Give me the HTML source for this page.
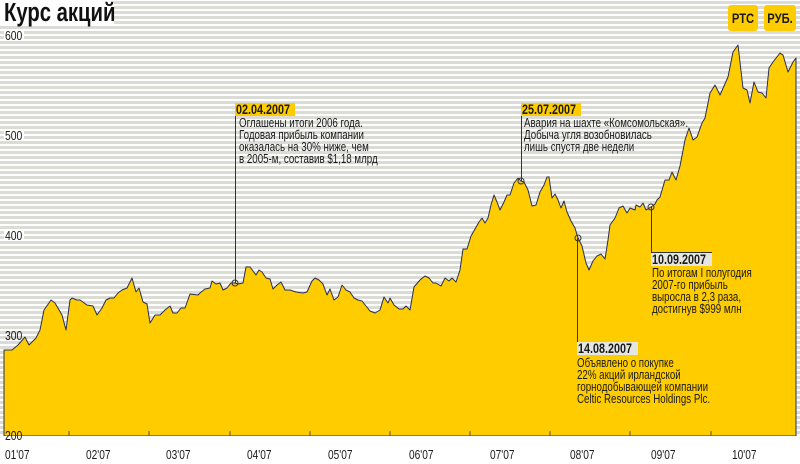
<!DOCTYPE html>
<html><head><meta charset="utf-8"><style>
html,body{margin:0;padding:0;background:#fff;}
svg{display:block;}
text{font-family:"Liberation Sans",sans-serif;fill:#1a1a1a;}
</style></head><body>
<svg width="800" height="464" viewBox="0 0 800 464" xmlns="http://www.w3.org/2000/svg">
<defs>
<pattern id="st" x="0" y="1" width="10" height="5" patternUnits="userSpaceOnUse">
<rect width="10" height="5" fill="#fff"/><rect y="0" width="10" height="3" fill="#dcdcd6"/>
</pattern>
</defs>
<rect x="0" y="0" width="800" height="440" fill="url(#st)"/>
<rect x="0" y="0" width="114" height="24" fill="#fff"/>
<path fill="#ffcc00" stroke="#2a2f50" stroke-width="1" stroke-linejoin="round" d="M4,436 L4,350 L12,350 L18,345 L25,337 L29,345 L36,338 L40,330 L44,310 L51,300 L55,303 L62,315 L66,330 L70,300 L72,298 L77,300 L80,300 L87,305 L93,306 L97,315 L102,308 L106,300 L110,298 L114,298 L118,293 L122,290 L127,288 L132,278 L136,292 L139,288 L143,302 L147,304 L150,323 L155,315 L160,315 L165,310 L170,306 L173,313 L177,313 L181,308 L185,308 L190,294 L198,295 L200,293 L205,289 L210,288 L212,281 L216,284 L220,283 L223,290 L227,288 L231,283 L235,283 L238,284 L243,283 L246,267 L250,267 L253,271 L256,275 L259,270 L262,272 L266,278 L270,279 L273,289 L277,285 L281,282 L285,290 L290,290 L296,292 L303,293 L307,292 L312,281 L315,278 L319,280 L323,284 L327,295 L330,289 L334,300 L338,297 L342,285 L346,290 L350,292 L354,298 L358,300 L362,301 L366,306 L370,311 L375,313 L380,310 L384,297 L388,303 L390,298 L394,305 L399,309 L403,309 L406,306 L410,310 L414,287 L420,280 L425,276 L429,278 L433,283 L436,283 L441,286 L445,278 L449,281 L452,278 L456,282 L460,270 L463,249 L467,249 L471,236 L475,229 L479,222 L482,218 L485,223 L488,218 L491,205 L494,195 L497,202 L500,210 L504,202 L507,195 L510,195 L514,183 L518,178 L521,181 L524,182 L528,190 L532,206 L536,205 L540,192 L544,185 L547,177 L549,177 L552,198 L555,194 L558,200 L561,208 L564,201 L567,212 L571,221 L575,228 L578,238 L582,246 L586,263 L589,270 L593,261 L597,256 L601,254 L605,259 L608,240 L610,225 L615,218 L619,208 L623,206 L627,213 L630,208 L635,210 L636,205 L640,207 L643,203 L646,210 L651,207 L655,204 L657,200 L660,197 L665,180 L669,180 L672,172 L676,180 L680,166 L685,140 L689,128 L693,140 L697,137 L702,123 L705,118 L710,93 L715,85 L720,95 L728,77 L733,52 L738,45 L743,88 L747,90 L750,103 L754,82 L758,92 L762,93 L766,98 L769,68 L773,62 L780,53 L783,55 L788,72 L793,62 L796,58 L796,436 Z"/>
<rect x="0" y="436" width="800" height="28" fill="#fff"/>
<g stroke="#555" stroke-width="1">
<line x1="69" y1="436" x2="69" y2="431"/><line x1="149" y1="436" x2="149" y2="431"/><line x1="230" y1="436" x2="230" y2="431"/><line x1="310" y1="436" x2="310" y2="431"/><line x1="390" y1="436" x2="390" y2="431"/><line x1="470" y1="436" x2="470" y2="431"/><line x1="550" y1="436" x2="550" y2="431"/><line x1="630" y1="436" x2="630" y2="431"/><line x1="711" y1="436" x2="711" y2="431"/>
</g>
<g font-size="13">
<text transform="translate(5,459) scale(0.78,1)">01'07</text>
<text transform="translate(86,459) scale(0.78,1)">02'07</text>
<text transform="translate(166,459) scale(0.78,1)">03'07</text>
<text transform="translate(247,459) scale(0.78,1)">04'07</text>
<text transform="translate(328,459) scale(0.78,1)">05'07</text>
<text transform="translate(409,459) scale(0.78,1)">06'07</text>
<text transform="translate(490,459) scale(0.78,1)">07'07</text>
<text transform="translate(570,459) scale(0.78,1)">08'07</text>
<text transform="translate(651,459) scale(0.78,1)">09'07</text>
<text transform="translate(732,459) scale(0.78,1)">10'07</text>
</g>
<g font-size="13">
<rect x="4" y="29" width="20" height="12" fill="#fff"/><text transform="translate(5,40) scale(0.8,1)">600</text>
<rect x="4" y="129" width="20" height="12" fill="#fff"/><text transform="translate(5,140) scale(0.8,1)">500</text>
<rect x="4" y="229" width="20" height="12" fill="#fff"/><text transform="translate(5,240) scale(0.8,1)">400</text>
<text transform="translate(5,340) scale(0.8,1)">300</text>
<text transform="translate(5,440) scale(0.8,1)">200</text>
</g>
<text transform="translate(4,21) scale(0.78,1)" font-size="26" font-weight="bold" style="fill:#111">Курс акций</text>
<rect x="728" y="5" width="30" height="26" rx="3" fill="#ffcc00"/>
<text transform="translate(743,23) scale(0.8,1)" font-size="14" font-weight="bold" text-anchor="middle">РТС</text>
<rect x="764" y="5" width="32" height="26" rx="3" fill="#ffcc00"/>
<text transform="translate(780,23) scale(0.8,1)" font-size="14" font-weight="bold" text-anchor="middle">РУБ.</text>
<g stroke="#333" stroke-width="1" fill="none">
<line x1="235.5" y1="116" x2="235.5" y2="283"/>
<line x1="521.5" y1="116" x2="521.5" y2="181"/>
<line x1="577.5" y1="238" x2="577.5" y2="343"/>
<line x1="651.5" y1="207" x2="651.5" y2="253"/>
<line x1="651" y1="252.5" x2="712" y2="252.5"/>
<circle cx="235" cy="283" r="3"/><circle cx="521" cy="181" r="3"/><circle cx="578" cy="238" r="3"/><circle cx="651" cy="207" r="3"/>
</g>
<rect x="235" y="103" width="60" height="13" fill="#ffcc00"/>
<text transform="translate(236,114) scale(0.8,1)" font-size="13.5" font-weight="bold">02.04.2007</text>
<g font-size="12.5">
<text transform="translate(239,127) scale(0.78,1)">Оглашены итоги 2006 года.</text>
<text transform="translate(239,139) scale(0.78,1)">Годовая прибыль компании</text>
<text transform="translate(239,151) scale(0.78,1)">оказалась на 30% ниже, чем</text>
<text transform="translate(239,163) scale(0.78,1)">в 2005-м, составив $1,18 млрд</text>
</g>
<rect x="521" y="103" width="60" height="13" fill="#ffcc00"/>
<text transform="translate(522,114) scale(0.8,1)" font-size="13.5" font-weight="bold">25.07.2007</text>
<g font-size="12.5">
<text transform="translate(524,127) scale(0.78,1)">Авария на шахте «Комсомольская».</text>
<text transform="translate(524,139) scale(0.78,1)">Добыча угля возобновилась</text>
<text transform="translate(524,151) scale(0.78,1)">лишь спустя две недели</text>
</g>
<rect x="577" y="342" width="61" height="13" fill="#e6e6e0"/>
<text transform="translate(578,353) scale(0.8,1)" font-size="13.5" font-weight="bold">14.08.2007</text>
<g font-size="12.5">
<text transform="translate(577,367) scale(0.78,1)">Объявлено о покупке</text>
<text transform="translate(577,379) scale(0.78,1)">22% акций ирландской</text>
<text transform="translate(577,391) scale(0.78,1)">горнодобывающей компании</text>
<text transform="translate(577,403) scale(0.78,1)">Celtic Resources Holdings Plc.</text>
</g>
<rect x="651" y="253" width="61" height="13" fill="#e6e6e0"/>
<text transform="translate(652,264) scale(0.8,1)" font-size="13.5" font-weight="bold">10.09.2007</text>
<g font-size="12.5">
<text transform="translate(652,277) scale(0.78,1)">По итогам I полугодия</text>
<text transform="translate(652,289) scale(0.78,1)">2007-го прибыль</text>
<text transform="translate(652,301) scale(0.78,1)">выросла в 2,3 раза,</text>
<text transform="translate(652,313) scale(0.78,1)">достигнув $999 млн</text>
</g>
</svg>
</body></html>
